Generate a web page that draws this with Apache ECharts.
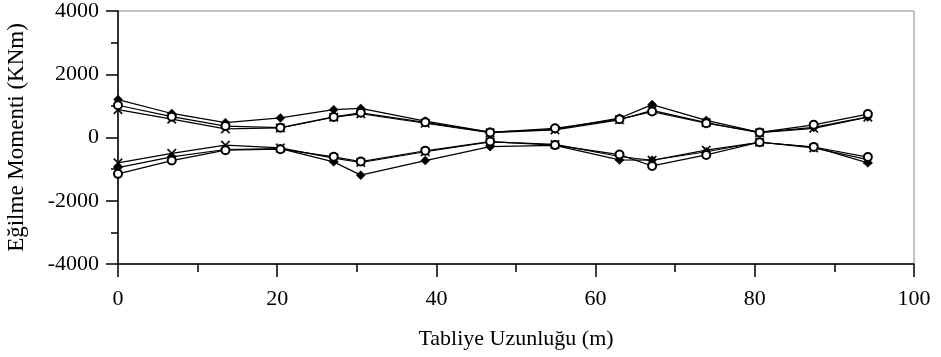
<!DOCTYPE html>
<html>
<head>
<meta charset="utf-8">
<script src="https://cdn.jsdelivr.net/npm/echarts@6/dist/echarts.min.js"></script>
<style>html,body{margin:0;padding:0;background:#fff;}#c{width:941px;height:357px;}</style>
</head>
<body>
<div id="c"></div>
<script>
const xPositions = [0, 6.75, 13.5, 20.4, 27.1, 30.5, 38.6, 46.75, 54.9, 63.0, 67.1, 73.9, 80.6, 87.4, 94.2];

const diamondUpper = [1200, 760, 470, 620, 880, 920, 520, 170, 260, 610, 1040, 540, 160, 320, 650];
const circleUpper  = [1020, 660, 360, 310, 650, 780, 480, 160, 290, 580, 820, 450, 160, 400, 740];
const crossUpper   = [880, 580, 270, 300, 640, 750, 450, 150, 240, 560, 860, 470, 150, 290, 640];

const diamondLower = [-950, -610, -380, -350, -770, -1190, -730, -290, -250, -710, -720, -450, -150, -300, -800];
const circleLower  = [-1150, -730, -400, -370, -610, -760, -420, -130, -240, -540, -900, -550, -150, -300, -620];
const crossLower   = [-800, -500, -240, -330, -650, -790, -450, -140, -220, -600, -720, -400, -150, -330, -700];

const xTicks = [0, 20, 40, 60, 80, 100];
const yTicks = [-4000, -2000, 0, 2000, 4000];

const xTitle = 'Tabliye Uzunluğu (m)';
const yTitle = 'Eğilme Momenti (KNm)';

const FONT = '"Liberation Serif", "Times New Roman", serif';
const crossPath = 'path://M0,1L1,0L5,4L9,0L10,1L6,5L10,9L9,10L5,6L1,10L0,9L4,5Z';

function pairs(vals) { return xPositions.map((x, i) => [x, vals[i]]); }

function mk(vals, symbol, size) {
  const empty = symbol === 'emptyCircle';
  return {
    type: 'line',
    data: pairs(vals),
    symbol: symbol,
    symbolSize: size,
    showAllSymbol: true,
    lineStyle: { color: '#000', width: 1.2 },
    itemStyle: { color: '#000', borderColor: '#000', borderWidth: empty ? 1.7 : 0.5 },
    emphasis: { disabled: true },
    animation: false,
    z: 3
  };
}

const chart = echarts.init(document.getElementById('c'), null, { renderer: 'canvas' });
chart.setOption({
  backgroundColor: '#fff',
  animation: false,
  grid: { left: 118, right: 27, top: 11, bottom: 93, show: true, borderColor: '#888', borderWidth: 1,
          containLabel: false, outerBoundsMode: 'none' },
  xAxis: {
    type: 'value', min: 0, max: 100, interval: 20,
    name: xTitle, nameLocation: 'middle', nameGap: 64,
    nameTextStyle: { fontFamily: FONT, fontSize: 22, color: '#000' },
    axisLine: { onZero: false, lineStyle: { color: '#000', width: 1.5 } },
    axisTick: { show: true, length: 13, inside: false, lineStyle: { color: '#000', width: 1.5 } },
    minorTick: { show: true, splitNumber: 2, length: 8, lineStyle: { color: '#000', width: 1.5 } },
    axisLabel: { margin: 24, fontFamily: FONT, fontSize: 22, color: '#000',
      formatter: v => xTicks.includes(v) ? String(v) : '' },
    splitLine: { show: false }
  },
  yAxis: {
    type: 'value', min: -4000, max: 4000, interval: 2000,
    name: yTitle, nameLocation: 'middle', nameGap: 90, nameRotate: 90,
    nameTextStyle: { fontFamily: FONT, fontSize: 23, color: '#000' },
    axisLine: { onZero: false, lineStyle: { color: '#000', width: 1.5 } },
    axisTick: { show: true, length: 12, lineStyle: { color: '#000', width: 1.5 } },
    minorTick: { show: true, splitNumber: 2, length: 7, lineStyle: { color: '#000', width: 1.5 } },
    axisLabel: { margin: 19, fontFamily: FONT, fontSize: 22, color: '#000',
      formatter: v => yTicks.includes(v) ? String(v) : '' },
    splitLine: { show: false }
  },
  series: [
    mk(crossUpper, crossPath, 9),
    mk(crossLower, crossPath, 9),
    mk(diamondUpper, 'diamond', 9),
    mk(diamondLower, 'diamond', 9),
    mk(circleUpper, 'emptyCircle', 8),
    mk(circleLower, 'emptyCircle', 8)
  ]
});
</script>
</body>
</html>
